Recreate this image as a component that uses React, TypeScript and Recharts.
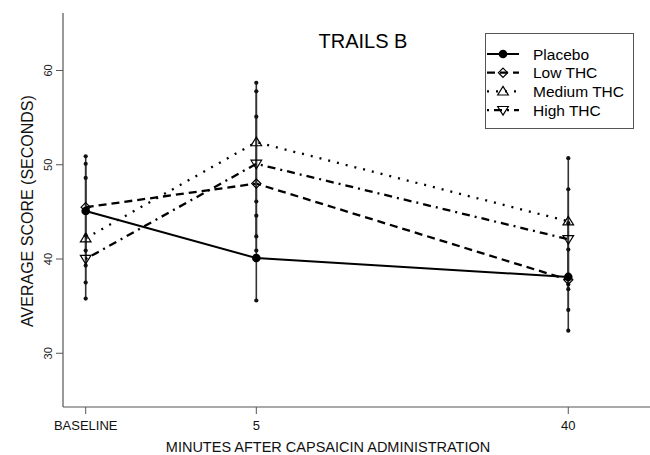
import React from 'react';
import { ComposedChart, Line, XAxis, YAxis, ErrorBar, Scatter, ReferenceArea, Legend } from 'recharts';

// ---- data ----
const minutes = [0, 5, 40];
const minuteLabels = ['BASELINE', '5', '40'];
const yTicks = [30, 40, 50, 60];
const seriesNames = ['Placebo', 'Low THC', 'Medium THC', 'High THC'];

const placeboMean = [45.1, 40.1, 38.1];
const placeboErr = [5.8, 4.5, 5.7];
const lowMean = [45.5, 48.0, 37.8];
const lowErr = [4.6, 7.1, 3.2];
const mediumMean = [42.2, 52.4, 44.0];
const mediumErr = [6.4, 6.3, 6.7];
const highMean = [40.0, 50.1, 42.1];
const highErr = [2.5, 7.7, 5.3];

const titleText = 'TRAILS B';
const xTitle = 'MINUTES AFTER CAPSAICIN ADMINISTRATION';
const yTitle = 'AVERAGE SCORE (SECONDS)';

// ---- layout / style ----
const X_DOMAIN: [number, number] = [-0.0885, 56.65];
const Y_DOMAIN: [number, number] = [24.3, 66.1];
const FONT = '"Liberation Sans", Arial, Helvetica, sans-serif';
const AXIS_GRAY = '#555';

type Kind = 'circle' | 'diamond' | 'triUp' | 'triDown';
const styles: { dash?: string; width: number; marker: Kind }[] = [
  { dash: undefined, width: 2, marker: 'circle' },
  { dash: '8 5', width: 2.3, marker: 'diamond' },
  { dash: '2 7', width: 2.3, marker: 'triUp' },
  { dash: '2 5 8 5', width: 2.3, marker: 'triDown' },
];

const means = [placeboMean, lowMean, mediumMean, highMean];
const errs = [placeboErr, lowErr, mediumErr, highErr];

const seriesData = means.map((m, si) =>
  minutes.map((x, i) => ({ x, y: m[i], err: errs[si][i] }))
);
const errorEnds = seriesData.flatMap((d) =>
  d.flatMap((p) => [
    { x: p.x, y: p.y + p.err },
    { x: p.x, y: p.y - p.err },
  ])
);

function MarkerShape({ kind, cx, cy }: { kind: Kind; cx: number; cy: number }) {
  if (cx == null || cy == null) return null;
  switch (kind) {
    case 'circle':
      return <circle cx={cx} cy={cy} r={4.3} fill="#000" />;
    case 'diamond':
      return (
        <polygon
          points={`${cx},${cy - 4.6} ${cx + 4.6},${cy} ${cx},${cy + 4.6} ${cx - 4.6},${cy}`}
          fill="none"
          stroke="#000"
          strokeWidth={1.2}
        />
      );
    case 'triUp':
      return (
        <polygon
          points={`${cx},${cy - 5} ${cx + 5.3},${cy + 3.6} ${cx - 5.3},${cy + 3.6}`}
          fill="none"
          stroke="#000"
          strokeWidth={1.2}
        />
      );
    case 'triDown':
      return (
        <polygon
          points={`${cx},${cy + 5} ${cx + 5.3},${cy - 3.6} ${cx - 5.3},${cy - 3.6}`}
          fill="none"
          stroke="#000"
          strokeWidth={1.2}
        />
      );
  }
  return null;
}

const XTick = (props: any) => {
  const { x, y, payload } = props;
  const idx = minutes.indexOf(payload.value);
  return (
    <text x={x} y={y} dy={13.5} textAnchor="middle" fontSize={13} fontFamily={FONT} fill="#111">
      {minuteLabels[idx]}
    </text>
  );
};

const YTick = (props: any) => {
  const { x, y, payload } = props;
  const bx = x - 1.5;
  return (
    <text
      x={bx}
      y={y}
      transform={`rotate(-90 ${bx} ${y})`}
      textAnchor="middle"
      fontSize={11}
      fontFamily={FONT}
      fill="#222"
    >
      {payload.value}
    </text>
  );
};

const XLabel = () => (
  <text x={328} y={452} textAnchor="middle" fontSize={14.5} fontFamily={FONT} fill="#111">
    {xTitle}
  </text>
);

const YLabel = () => (
  <text
    x={33}
    y={211}
    transform="rotate(-90 33 211)"
    textAnchor="middle"
    fontSize={16}
    fontFamily={FONT}
    fill="#111"
  >
    {yTitle}
  </text>
);

const TitleLabel = () => (
  <text x={363} y={48} textAnchor="middle" fontSize={20} fontFamily={FONT} fill="#000">
    {titleText}
  </text>
);

const LegendBox = () => (
  <div
    style={{
      width: 149,
      height: 96,
      border: `1px solid ${AXIS_GRAY}`,
      boxSizing: 'border-box',
      background: '#fff',
    }}
  >
    <svg width={147} height={94} style={{ display: 'block' }}>
      {seriesNames.map((name, i) => {
        const cy = 20 + i * 18.7;
        const st = styles[i];
        return (
          <g key={name}>
            <line
              x1={1}
              x2={33}
              y1={cy}
              y2={cy}
              stroke="#000"
              strokeWidth={st.width}
              strokeDasharray={st.dash}
            />
            <MarkerShape kind={st.marker} cx={17} cy={cy} />
            <text x={47} y={cy + 5.5} fontSize={15.5} fontFamily={FONT} fill="#000">
              {name}
            </text>
          </g>
        );
      })}
    </svg>
  </div>
);

export default function App() {
  return (
    <div
      style={{
        position: 'absolute',
        left: 0,
        top: 0,
        width: 650,
        height: 455,
        overflow: 'hidden',
        background: '#fff',
      }}
    >
      <ComposedChart width={680} height={455} margin={{ top: 13, right: 20, bottom: 0, left: 0 }}>
        <XAxis
          type="number"
          dataKey="x"
          scale="sqrt"
          domain={X_DOMAIN}
          ticks={minutes}
          allowDataOverflow
          axisLine={{ stroke: AXIS_GRAY, strokeWidth: 1.2 }}
          tickSize={7}
          tickLine={{ stroke: AXIS_GRAY }}
          height={48}
          interval={0}
          tick={XTick}
          label={{ content: XLabel }}
        />
        <XAxis
          xAxisId="top"
          orientation="top"
          type="number"
          dataKey="x"
          scale="sqrt"
          domain={X_DOMAIN}
          allowDataOverflow
          axisLine={{ stroke: AXIS_GRAY, strokeWidth: 1.2 }}
          tick={false}
          tickLine={false}
          height={0}
        />
        <YAxis
          type="number"
          domain={Y_DOMAIN}
          ticks={yTicks}
          allowDataOverflow
          axisLine={{ stroke: AXIS_GRAY, strokeWidth: 1.2 }}
          tickSize={7}
          tickLine={{ stroke: AXIS_GRAY }}
          width={63}
          interval={0}
          tick={YTick}
          label={{ content: YLabel }}
        />
        <ReferenceArea
          x1={X_DOMAIN[0]}
          x2={X_DOMAIN[1]}
          y1={Y_DOMAIN[0]}
          y2={Y_DOMAIN[1]}
          fill="none"
          fillOpacity={0}
          stroke="none"
          ifOverflow="visible"
          label={{ content: TitleLabel }}
        />
        {seriesData.map((d, i) => (
          <Line
            key={seriesNames[i]}
            name={seriesNames[i]}
            data={d}
            dataKey="y"
            type="linear"
            stroke="#000"
            strokeWidth={styles[i].width}
            strokeDasharray={styles[i].dash}
            isAnimationActive={false}
            activeDot={false}
            dot={(p: any) => (
              <MarkerShape key={`${seriesNames[i]}-${p.index}`} kind={styles[i].marker} cx={p.cx} cy={p.cy} />
            )}
          >
            <ErrorBar dataKey="err" width={0} stroke="#333" strokeWidth={1.6} direction="y" isAnimationActive={false} />
          </Line>
        ))}
        <Scatter
          name="ends"
          data={errorEnds}
          dataKey="y"
          isAnimationActive={false}
          legendType="none"
          shape={(p: any) => <circle cx={p.cx} cy={p.cy} r={2.1} fill="#111" />}
        />
        <Legend
          layout="horizontal"
          verticalAlign="middle"
          align="center"
          wrapperStyle={{ left: 485, top: 33, width: 149, height: 96 }}
          content={LegendBox}
        />
      </ComposedChart>
    </div>
  );
}
